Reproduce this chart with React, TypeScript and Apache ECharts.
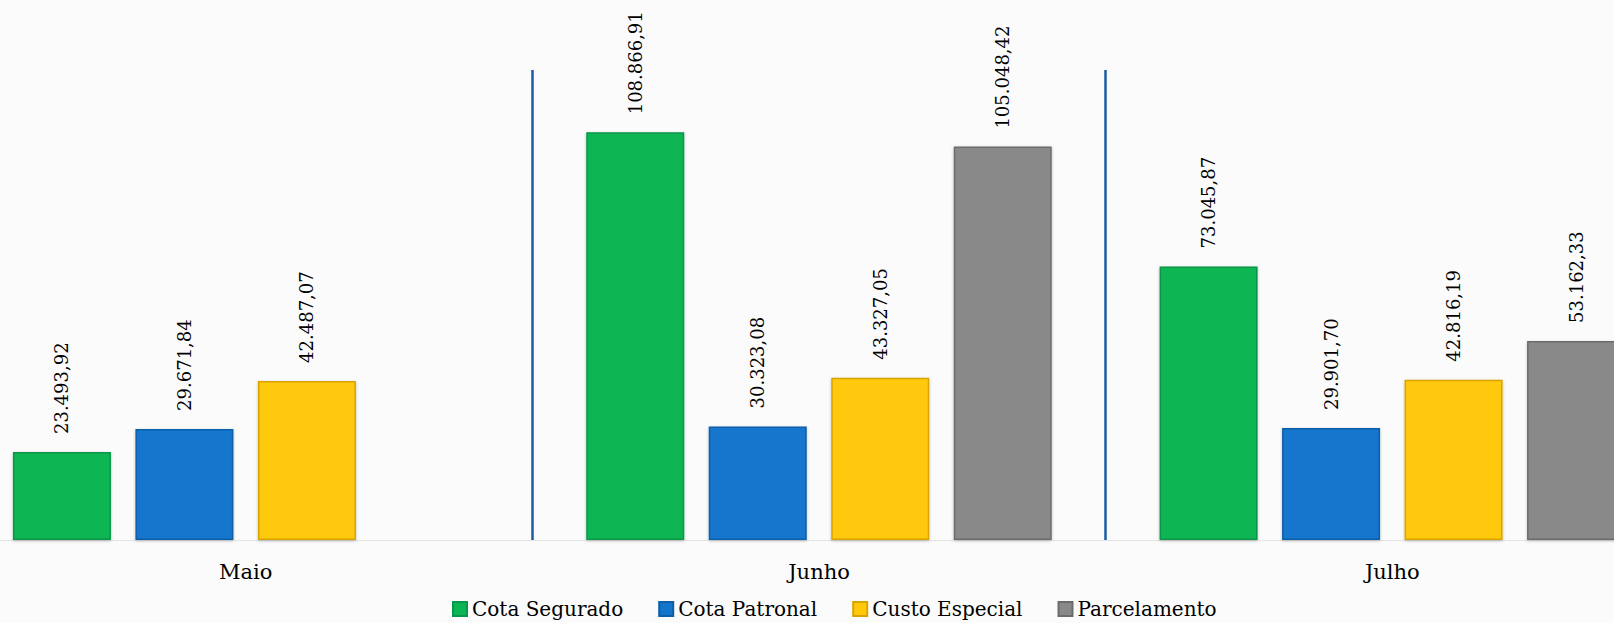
import React, { useEffect, useRef } from "react";
import * as echarts from "echarts";

const categories = ["Maio", "Junho", "Julho"];
const seriesNames = ["Cota Segurado", "Cota Patronal", "Custo Especial", "Parcelamento"];
const cotaSegurado = [23493.92, 108866.91, 73045.87];
const cotaPatronal = [29671.84, 30323.08, 29901.7];
const custoEspecial = [42487.07, 43327.05, 42816.19];
const parcelamento: (number | null)[] = [null, 105048.42, 53162.33];

const fills = ["#0ab553", "#1574cc", "#ffc90a", "#898989"];
const borders = ["#07964a", "#0e5ea8", "#d9a400", "#6c6c6c"];

function fmt(v: number): string {
  const fixed = v.toFixed(2);
  const [intPart, dec] = fixed.split(".");
  const withDots = intPart.replace(/\B(?=(\d{3})+(?!\d))/g, ".");
  return withDots + "," + dec;
}

const OFFSET = 41;

export default function App() {
  const ref = useRef<HTMLDivElement>(null);
  useEffect(() => {
    if (!ref.current) return;
    const chart = echarts.init(ref.current, undefined, { renderer: "svg" });
    const allData = [cotaSegurado, cotaPatronal, custoEspecial, parcelamento];
    chart.setOption({
      animation: false,
      backgroundColor: "#fbfbfb",
      textStyle: { fontFamily: "DejaVu Serif" },
      grid: { left: 0, right: 0, top: 70, bottom: 83, containLabel: false },
      legend: {
        data: seriesNames,
        left: 447 + OFFSET,
        top: 594,
        itemWidth: 14,
        itemHeight: 14,
        itemGap: 35,
        icon: "rect",
        textStyle: { fontFamily: "DejaVu Serif", fontSize: 20, color: "#000" },
      },
      xAxis: {
        type: "category",
        data: categories,
        axisLine: { show: true, lineStyle: { color: "#e4e4e4", width: 1 } },
        axisTick: { show: false },
        axisLabel: { fontFamily: "DejaVu Serif", fontSize: 21, color: "#000", margin: 21 },
        splitLine: { show: true, lineStyle: { color: "#1c5ba6", width: 2.5 } },
      },
      yAxis: {
        type: "value",
        min: 0,
        max: 125500,
        show: false,
        splitLine: { show: false },
      },
      series: seriesNames.map((name, i) => ({
        name,
        type: "bar",
        data: allData[i],
        barWidth: 98,
        barGap: "25%",
        itemStyle: {
          color: fills[i],
          borderColor: borders[i],
          borderWidth: 1.5,
          shadowColor: "rgba(0,0,0,0.25)",
          shadowBlur: 3,
          shadowOffsetY: 1,
        },
        label: {
          show: true,
          position: "top",
          rotate: 90,
          align: "left",
          verticalAlign: "middle",
          distance: 18,
          fontFamily: "DejaVu Serif",
          fontSize: 18,
          color: "#000",
          formatter: (p: any) => fmt(p.value as number),
        },
      })),
    });
    return () => chart.dispose();
  }, []);
  return (
    <div
      ref={ref}
      style={{ position: "fixed", left: -OFFSET, top: 0, width: 1720, height: 623 }}
    />
  );
}
